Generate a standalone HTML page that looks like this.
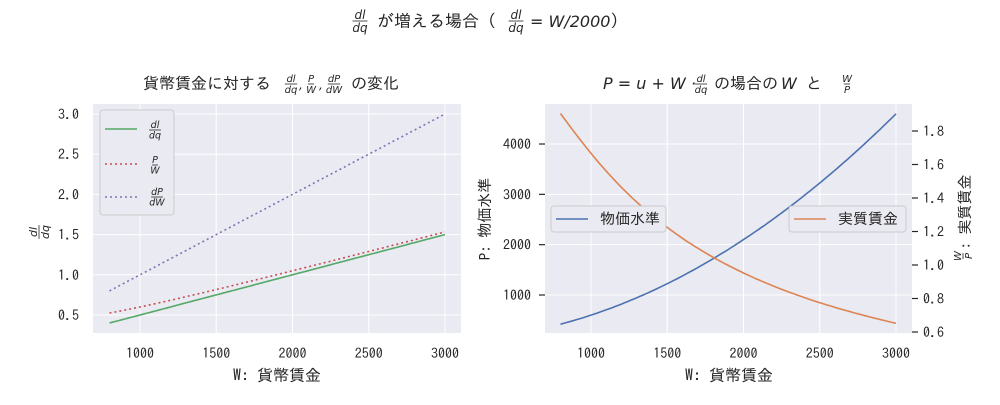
<!DOCTYPE html>
<html><head><meta charset="utf-8"><style>
body{margin:0;background:#fff}
svg text{font-family:"IPAGothic","Noto Sans CJK JP",sans-serif;fill:#262626}
.m{font-family:"DejaVu Sans",sans-serif !important;font-style:italic}
</style></head><body>
<svg id="s" width="1000" height="400" viewBox="0 0 1000 400" xmlns="http://www.w3.org/2000/svg">
<rect width="1000" height="400" fill="#fff"/>
<text x="377" y="27" font-size="17">が増える場合（</text>
<text x="530" y="27" font-size="17"><tspan class="m" font-size="16">= W/2000</tspan>）</text>

<rect x="93" y="104" width="368" height="229" fill="#eaeaf2"/>
<g id="lg" stroke="#fff" stroke-width="1"></g>
<g id="lp" fill="none" stroke-width="1.6"></g>
<text x="143" y="89" font-size="16">貨幣賃金に対する</text>
<text x="351" y="89" font-size="16">の変化</text>
<text x="277" y="381" font-size="16" text-anchor="middle">W: 貨幣賃金</text>
<g id="lt" font-size="14"></g>
<rect x="100" y="110" width="74" height="105" rx="3" fill="#eaeaf2" stroke="#ccc"/>
<line x1="105" y1="129" x2="137" y2="129" stroke="#55a868" stroke-width="1.6"/>
<line x1="105" y1="164" x2="137" y2="164" stroke="#c44e52" stroke-width="1.6" stroke-dasharray="2,3"/>
<line x1="105" y1="197" x2="137" y2="197" stroke="#8172b2" stroke-width="1.6" stroke-dasharray="2,3"/>

<rect x="545" y="104" width="367" height="229" fill="#eaeaf2"/>
<g id="rg" stroke="#fff" stroke-width="1"></g>
<g id="rp" fill="none" stroke-width="1.6"></g>
<text x="603" y="89" font-size="16" class="m">P = u + W ·</text>
<text x="714" y="89" font-size="16">の場合の</text>
<text x="781" y="89" font-size="16" class="m">W</text>
<text x="806" y="89" font-size="16">と</text>
<text x="729" y="381" font-size="16" text-anchor="middle">W: 貨幣賃金</text>
<text transform="translate(490,219) rotate(-90)" font-size="15" text-anchor="middle">P: 物価水準</text>
<text transform="translate(970,212) rotate(-90)" font-size="15" text-anchor="middle">: 実質賃金</text>
<g id="rt" font-size="14"></g>
<rect x="551" y="206" width="115" height="26" rx="3" fill="#eaeaf2" stroke="#ccc"/>
<line x1="556" y1="219" x2="588" y2="219" stroke="#4c72b0" stroke-width="1.6"/>
<text x="600" y="224" font-size="15">物価水準</text>
<rect x="789" y="206" width="117" height="26" rx="3" fill="#eaeaf2" stroke="#ccc"/>
<line x1="794" y1="219" x2="826" y2="219" stroke="#dd8452" stroke-width="1.6"/>
<text x="838" y="224" font-size="15">実質賃金</text>
<g id="fr"></g>
</svg>
<script>
const NS="http://www.w3.org/2000/svg";
function el(p,t,a,txt){const e=document.createElementNS(NS,t);for(const k in a)e.setAttribute(k,a[k]);if(txt!==undefined)e.textContent=txt;(typeof p=='string'?document.getElementById(p):p).appendChild(e);return e;}
function frac(cx,by,n,d,fs,rot){const g=el('fr','g',rot?{transform:`translate(${cx},${by}) rotate(-90)`}:{transform:`translate(${cx},${by})`});
 const w=Math.max(n.length,d.length)*fs*0.62;
 el(g,'text',{x:0,y:-2,'font-size':fs,'class':'m','text-anchor':'middle'},n);
 el(g,'line',{x1:-w/2,x2:w/2,y1:0,y2:0,stroke:'#262626','stroke-width':0.8});
 el(g,'text',{x:0,y:fs*0.9,'font-size':fs,'class':'m','text-anchor':'middle'},d);}
frac(360,21,'dl','dq',12);frac(516,21,'dl','dq',12);
frac(291,84,'dl','dq',10);el('fr','text',{x:299,y:89,'font-size':12,'class':'m'},',');
frac(311,84,'P','W',10);el('fr','text',{x:319,y:89,'font-size':12,'class':'m'},',');
frac(334,84,'dP','dW',10);
frac(39,232,'dl','dq',11,true);
frac(155,130,'dl','dq',9.5);frac(155,165,'P','W',9.5);frac(157,197,'dP','dW',9.5);
frac(701,84,'dl','dq',10);frac(847,84,'W','P',10);
frac(963,256,'W','P',10,true);
const lx=w=>140+(w-1000)*0.1525, ly=v=>315-(v-0.5)*80.4;
const rx=w=>591+(w-1000)*0.1525, ry=v=>295-(v-1000)*0.05033, ry2=v=>332-(v-0.6)*167.5;
for(let w=1000;w<=3000;w+=500){el('lg','line',{x1:lx(w),x2:lx(w),y1:104,y2:333});el('lt','text',{x:lx(w),y:358,'text-anchor':'middle'},w);
 el('rg','line',{x1:rx(w),x2:rx(w),y1:104,y2:333});el('rt','text',{x:rx(w),y:358,'text-anchor':'middle'},w);}
for(let v=0.5;v<=3.01;v+=0.5){el('lg','line',{x1:93,x2:461,y1:ly(v),y2:ly(v)});el('lt','text',{x:79,y:ly(v)+5,'text-anchor':'end'},v.toFixed(1));}
for(let v=1000;v<=4000;v+=1000){el('rg','line',{x1:545,x2:912,y1:ry(v),y2:ry(v)});el('rt','text',{x:531,y:ry(v)+5,'text-anchor':'end'},v);
 el('rt','line',{x1:539,x2:545,y1:ry(v),y2:ry(v),stroke:'#262626','stroke-width':1.2});}
for(let v=0.6;v<=1.81;v+=0.2){el('rt','line',{x1:912,x2:918,y1:ry2(v),y2:ry2(v),stroke:'#262626','stroke-width':1.2});el('rt','text',{x:923,y:ry2(v)+5},v.toFixed(1));}
function pts(fx,fy,f){let a=[];for(let w=800;w<=3000;w+=20)a.push(fx(w).toFixed(1)+','+fy(f(w)).toFixed(1));return a.join(' ');}
el('lp','polyline',{points:pts(lx,ly,w=>w/2000),stroke:'#55a868'});
el('lp','polyline',{points:pts(lx,ly,w=>100/w+w/2000),stroke:'#c44e52','stroke-dasharray':'2,3'});
el('lp','polyline',{points:pts(lx,ly,w=>w/1000),stroke:'#8172b2','stroke-dasharray':'2,3'});
el('rp','polyline',{points:pts(rx,ry,w=>100+w*w/2000),stroke:'#4c72b0'});
el('rp','polyline',{points:pts(rx,ry2,w=>w/(100+w*w/2000)),stroke:'#dd8452'});
</script>
</body></html>
